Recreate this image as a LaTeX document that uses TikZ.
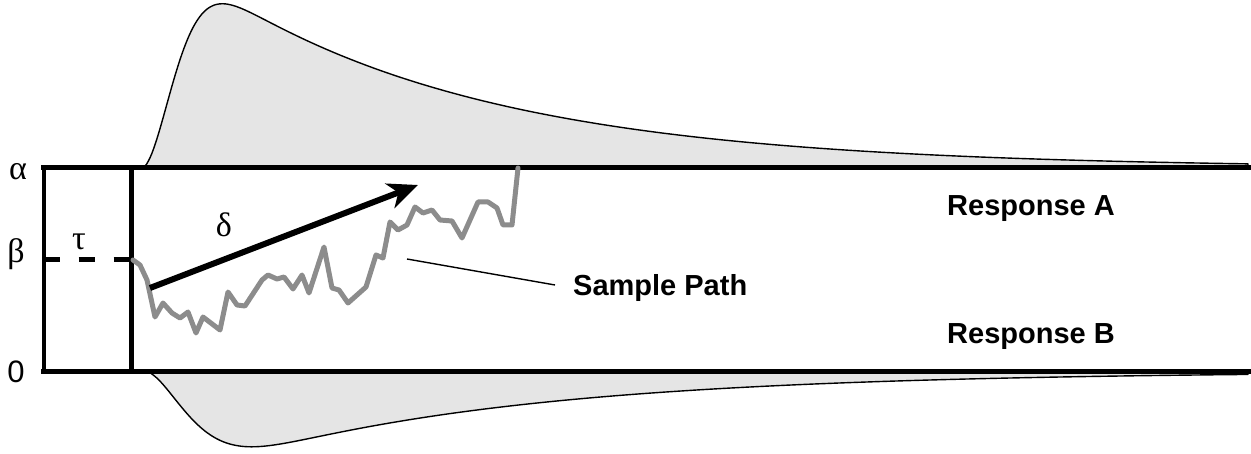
\documentclass[tikz,border=0pt]{standalone}
\usepackage{fontspec}
\setmainfont{Liberation Serif}
\setsansfont{Liberation Sans}
\usetikzlibrary{arrows.meta}
\definecolor{densfill}{gray}{0.9}
\definecolor{pathgray}{gray}{0.55}
\tikzset{
  frameline/.style={line width=5pt, line cap=rect},
  thinframe/.style={line width=4pt},
  density/.style={fill=densfill, draw=black, line width=1.4pt, line join=round},
  greek/.style={inner sep=0pt, anchor=base, font=\fontsize{34}{38}\selectfont},
  axnum/.style={inner sep=0pt, anchor=base, font=\sffamily\fontsize{31}{34}\selectfont},
  boldlabel/.style={inner sep=0pt, anchor=base west, font=\sffamily\bfseries\fontsize{29}{33}\selectfont},
  samplepath/.style={draw=pathgray, line width=5pt, line join=round, line cap=round},
  leader/.style={line width=1.4pt},
  driftarrow/.style={line width=6pt, -{Stealth[length=30pt, width=26pt, inset=9pt]}},
  dashline/.style={line width=5pt, dash pattern=on 16pt off 19pt}
}
\begin{document}
\begin{tikzpicture}[x=1pt, y=-1pt,
  declare function={
    hA(\t)=232*exp(-\t/275)*(1-exp(-pow(\t/44,1.8)));
    hB(\t)=116*exp(-\t/300)*(1-exp(-pow(\t/59.7,1.65)));
  }]
\useasboundingbox (0,0) rectangle (1251,454);
% densities
\path[density] (142,168)
  -- plot[domain=1:160, samples=90, variable=\t] ({142+\t},{168-hA(\t)})
  -- plot[domain=160:1106, samples=120, variable=\t] ({142+\t},{168-hA(\t)})
  -- (1248,168) -- cycle;
\path[density] (146,371.5)
  -- plot[domain=1:200, samples=90, variable=\t] ({146+\t},{371.5+hB(\t)})
  -- plot[domain=200:1102, samples=120, variable=\t] ({146+\t},{371.5+hB(\t)})
  -- (1248,371.5) -- cycle;
% frame
\coordinate (tl) at (43.5,168);
\coordinate (tr) at (1249,168);
\coordinate (bl) at (43.5,371.5);
\coordinate (br) at (1249,371.5);
\coordinate (vt) at (131.5,168);
\coordinate (vb) at (131.5,371.5);
\coordinate (beta0) at (43.5,260);
\coordinate (beta1) at (131.5,260);
\draw[frameline] (tl) -- (tr);
\draw[frameline] (bl) -- (br);
\draw[thinframe] (tl) -- (bl);
\draw[line width=5.5pt] (vt) -- (vb);
\draw[dashline] (beta0) -- (beta1);
% sample path
\draw[samplepath] plot coordinates {
 (133,260) (140,265) (147,280) (155,317) (163,303) (172,313) (180,318) (188,312)
 (196,333) (203,317) (220,330) (228,292) (237,305) (245,306) (262,280) (268,275)
 (277,279) (284,277) (293,289) (302,275) (309,293) (324,247) (332,288) (339,290)
 (348,303) (366,287) (376,255) (383,258) (390,222) (398,230) (407,225) (415,207)
 (423,213) (432,210) (440,220) (452,221) (462,238) (478,202) (488,202) (497,208)
 (503,225) (512,225) (518,168)};
% drift arrow
\coordinate (d0) at (150,288);
\coordinate (d1) at (418,185);
\draw[driftarrow] (d0) -- (d1);
% labels
\node[greek] (alpha) at (18,180) {α};
\node[greek] (beta) at (16,263) {β};
\node[axnum] (zero) at (16,383) {0};
\node[greek] (tau) at (79,250) {τ};
\node[greek] (delta) at (224,237) {δ};
\node[boldlabel] (respA) at (947,216) {Response A};
\node[boldlabel] (respB) at (947,344) {Response B};
\node[boldlabel] (sp) at (573,296) {Sample Path};
\coordinate (lead0) at (407,259);
\coordinate (lead1) at (555,285);
\draw[leader] (lead0) -- (lead1);
\end{tikzpicture}
\end{document}
